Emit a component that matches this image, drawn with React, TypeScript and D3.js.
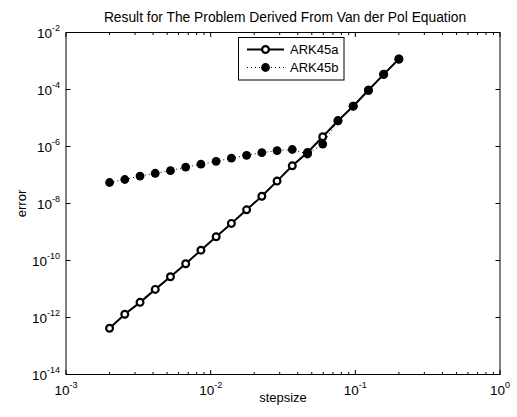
import React from "react";
import * as d3 from "d3";

const stepsize = [
  0.002, 0.002549, 0.003248, 0.004138, 0.005273, 0.00672, 0.008563, 0.010911,
  0.013904, 0.017717, 0.022577, 0.028769, 0.03666, 0.046714, 0.059528,
  0.075854, 0.096658, 0.12317, 0.15695, 0.2,
];
const ark45a = [
  4.2e-13, 1.3e-12, 3.4e-12, 9.7e-12, 2.7e-11, 7.7e-11, 2.3e-10, 6.8e-10,
  2.0e-9, 6.0e-9, 1.8e-8, 6.1e-8, 2.1e-7, 6.2e-7, 2.2e-6, 8.0e-6, 2.6e-5,
  9.4e-5, 3.4e-4, 1.17e-3,
];
const ark45b = [
  5.45e-8, 6.95e-8, 9.2e-8, 1.15e-7, 1.42e-7, 1.88e-7, 2.39e-7, 3.03e-7,
  3.88e-7, 4.91e-7, 6.06e-7, 7.18e-7, 7.85e-7, 5.46e-7, 1.22e-6, 8.0e-6,
  2.6e-5, 9.4e-5, 3.4e-4, 1.17e-3,
];
const xMajor = [1e-3, 1e-2, 1e-1, 1];
const xMajorExp = ["-3", "-2", "-1", "0"];
const yMajor = [1e-14, 1e-12, 1e-10, 1e-8, 1e-6, 1e-4, 1e-2];
const yMajorExp = ["-14", "-12", "-10", "-8", "-6", "-4", "-2"];
const seriesNames = ["ARK45a", "ARK45b"];
const title = "Result for The Problem Derived From Van der Pol Equation";
const xLabel = "stepsize";
const yLabel = "error";

const W = 517;
const H = 417;
const L = 66, R = 500, T = 32.5, B = 374.5;
const FONT = "'Liberation Sans', Arial, Helvetica, sans-serif";

export default function App() {
  const x = d3.scaleLog().domain([1e-3, 1]).range([L, R]);
  const y = d3.scaleLog().domain([1e-14, 1e-2]).range([B, T]);
  const xMinor: number[] = [];
  for (let d = -3; d < 0; d++) {
    for (let k = 2; k <= 9; k++) xMinor.push(k * Math.pow(10, d));
  }
  const line = d3
    .line<number>()
    .x((_, i) => x(stepsize[i]))
    .y((v) => y(v));

  return (
    <svg width={W} height={H} style={{ position: "absolute", left: 0, top: 0, background: "#fff" }}
      fontFamily={FONT}>
      <rect x={0} y={0} width={W} height={H} fill="#fff" />
      <rect x={L} y={T} width={R - L} height={B - T} fill="#fff" stroke="#000" strokeWidth={1} />
      {xMajor.map((v, i) => (
        <g key={"xm" + i}>
          <line x1={x(v)} x2={x(v)} y1={B} y2={B - 4.5} stroke="#000" />
          <line x1={x(v)} x2={x(v)} y1={T} y2={T + 4.5} stroke="#000" />
          <text x={x(v)} y={395} textAnchor="middle" fontSize={13.5}>
            10<tspan dy={-7} fontSize={9}>{xMajorExp[i]}</tspan>
          </text>
        </g>
      ))}
      {xMinor.map((v, i) => (
        <g key={"xn" + i}>
          <line x1={x(v)} x2={x(v)} y1={B} y2={B - 2.5} stroke="#000" />
          <line x1={x(v)} x2={x(v)} y1={T} y2={T + 2.5} stroke="#000" />
        </g>
      ))}
      {yMajor.map((v, i) => (
        <g key={"ym" + i}>
          <line x1={L} x2={L + 4.5} y1={y(v)} y2={y(v)} stroke="#000" />
          <line x1={R} x2={R - 4.5} y1={y(v)} y2={y(v)} stroke="#000" />
          <text x={60} y={y(v) + 5} textAnchor="end" fontSize={13.5}>
            10<tspan dy={-7} fontSize={9}>{yMajorExp[i]}</tspan>
          </text>
        </g>
      ))}
      <path d={line(ark45a) || ""} fill="none" stroke="#000" strokeWidth={2} />
      {ark45a.map((v, i) => (
        <circle key={"a" + i} cx={x(stepsize[i])} cy={y(v)} r={3.4} fill="#fff" stroke="#000" strokeWidth={2.2} />
      ))}
      <path d={line(ark45b) || ""} fill="none" stroke="#000" strokeWidth={1} strokeDasharray="1 3" />
      {ark45b.map((v, i) => (
        <circle key={"b" + i} cx={x(stepsize[i])} cy={y(v)} r={4.4} fill="#000" />
      ))}
      <rect x={238.5} y={37.5} width={105.5} height={42.5} fill="#fff" stroke="#000" strokeWidth={1} />
      <line x1={247} x2={284} y1={49.5} y2={49.5} stroke="#000" strokeWidth={2} />
      <circle cx={265.5} cy={49.5} r={3.4} fill="#fff" stroke="#000" strokeWidth={2.2} />
      <text x={290} y={54} fontSize={13}>{seriesNames[0]}</text>
      <line x1={247} x2={284} y1={67.5} y2={67.5} stroke="#000" strokeWidth={1} strokeDasharray="1 3" />
      <circle cx={265.5} cy={67.5} r={4.4} fill="#000" />
      <text x={290} y={72} fontSize={13}>{seriesNames[1]}</text>
      <text x={(L + R) / 2 + 2} y={22} textAnchor="middle" fontSize={13.8}>{title}</text>
      <text x={(L + R) / 2} y={402} textAnchor="middle" fontSize={13}>{xLabel}</text>
      <text transform={`translate(26,${(T + B) / 2}) rotate(-90)`} textAnchor="middle" fontSize={13}>{yLabel}</text>
    </svg>
  );
}
